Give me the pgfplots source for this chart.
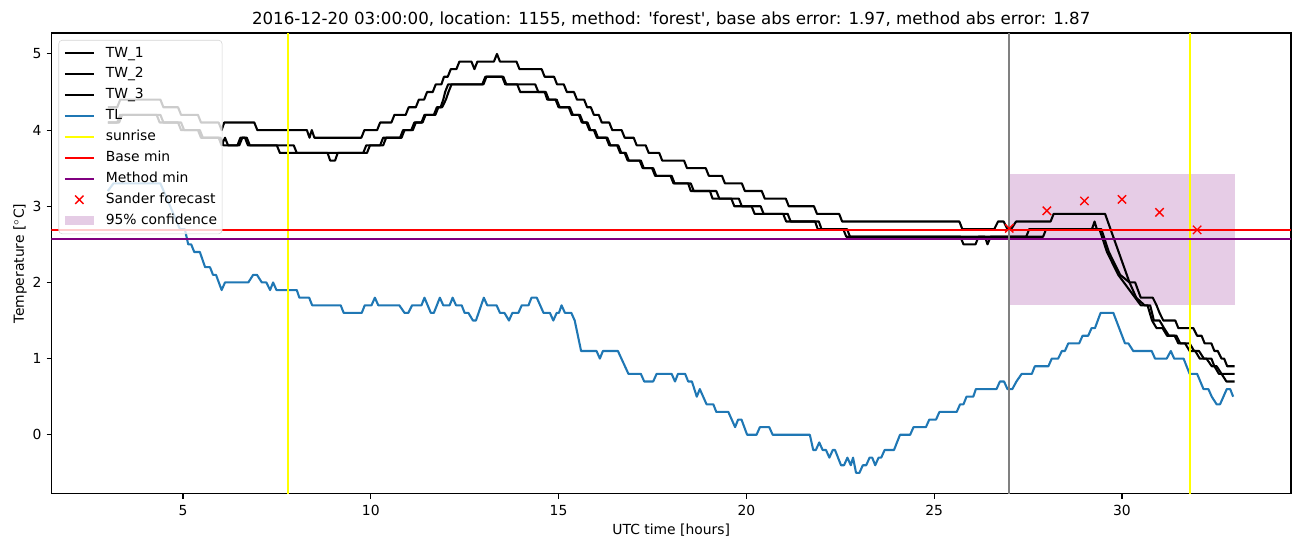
\documentclass[border=0pt]{standalone}
\usepackage{fontspec}
\setmainfont{DejaVu Sans}[Ligatures=TeXOff]
\usepackage{pgfplots}
\pgfplotsset{compat=1.18}
\definecolor{tabblue}{HTML}{1F77B4}
\definecolor{mplpurple}{HTML}{800080}
\definecolor{mplgray}{HTML}{808080}
\definecolor{mplyellow}{HTML}{FFFF00}
\definecolor{mplred}{HTML}{FF0000}
\pgfplotsset{
  lineleg/.style={legend image code/.code={\draw[##1] (0pt,0pt) -- (20.9pt,0pt);}},
  markleg/.style={legend image code/.code={\draw[##1] plot coordinates {(10.45pt,0pt)};}},
}
\begin{document}
\begin{tikzpicture}
\begin{axis}[
  scale only axis, width=892.8pt, height=331.92pt,
  xmin=1.5, xmax=34.5, ymin=-0.775, ymax=5.275,
  xtick={5,10,...,30}, ytick={0,1,...,5},
  xtick pos=left, ytick pos=left, tick align=outside,
  major tick length=3.5pt,
  every tick/.style={black, line width=0.8pt},
  axis line style={line width=0.8pt},
  /pgf/number format/assume math mode=true,
  tick label style={font=\fontsize{10}{12}\selectfont},
  xticklabel style={anchor=north, inner sep=0pt, yshift=-4.5pt},
  yticklabel style={anchor=east, inner sep=0pt, xshift=-3.5pt},
  label style={font=\fontsize{10}{12}\selectfont},
  title style={font=\fontsize{12}{14}\selectfont, at={(axis description cs:0.5,1.0007)}, anchor=base, inner sep=0pt},
  title={2016-12-20 03:00:00, location: 1155, method: 'forest', base abs error: 1.97, method abs error: 1.87},
  xlabel={UTC time [hours]},
  ylabel={Temperature [$^\circ$C]},
  xlabel style={at={(axis description cs:0.5,-0.0642)}, anchor=north, inner sep=0pt},
  ylabel style={at={(axis description cs:-0.0197,0.5)}, anchor=south, inner sep=0pt},
  legend style={at={(axis description cs:0.00565,0.9848)}, anchor=north west,
    font=\fontsize{10}{12}\selectfont, draw=black!17, fill=white, fill opacity=0.8,
    text opacity=1, rounded corners=2.5pt, inner xsep=3.6pt, inner ysep=4.5pt,
    row sep=5.05pt, column sep=7.9pt,
    nodes={inner sep=0pt, text height=7.6pt, text depth=2.4pt}},
  legend cell align=left,
  every axis plot/.append style={line width=1.5pt, line join=round},
]
% 95% confidence band (behind everything)
\addplot[draw=none, fill=mplpurple, fill opacity=0.2, forget plot]
  coordinates {(27,1.70) (33,1.70) (33,3.43) (27,3.43)} -- cycle;

\addplot[black, lineleg, mark=none] coordinates {
(3.0,4.3) (3.25,4.3) (3.33,4.4) (4.4,4.4) (4.48,4.3) (4.87,4.3) (4.95,4.2) (5.4,4.2) (5.48,4.1) (5.95,4.1)
(6.03,4.0) (6.1,4.1) (6.9,4.1) (6.98,4.0) (8.3,4.0) (8.37,3.9) (8.43,4.0) (8.5,3.9) (9.75,3.9) (9.83,4.0)
(10.17,4.0) (10.25,4.1) (10.55,4.1) (10.63,4.2) (10.93,4.2) (11.01,4.3) (11.2,4.3) (11.28,4.4) (11.42,4.4)
(11.5,4.5) (11.65,4.5) (11.73,4.6) (11.88,4.6) (11.95,4.7) (12.05,4.7) (12.13,4.8) (12.28,4.8) (12.36,4.9)
(12.68,4.9) (12.76,4.8) (12.84,4.9) (13.28,4.9) (13.36,5.0) (13.44,4.9) (13.88,4.9) (13.96,4.8) (14.55,4.8)
(14.63,4.7) (14.88,4.7) (14.96,4.6) (15.14,4.6) (15.22,4.5) (15.41,4.5) (15.49,4.4) (15.68,4.4) (15.76,4.3)
(15.86,4.3) (15.94,4.2) (16.07,4.2) (16.15,4.1) (16.35,4.1) (16.43,4.0) (16.68,4.0) (16.76,3.9) (17.0,3.9)
(17.08,3.8) (17.32,3.8) (17.4,3.7) (17.68,3.7) (17.76,3.6) (18.34,3.6) (18.42,3.5) (18.92,3.5) (19.0,3.4)
(19.35,3.4) (19.43,3.3) (19.88,3.3) (19.96,3.2) (20.41,3.2) (20.49,3.1) (21.05,3.1) (21.13,3.0) (21.8,3.0)
(21.88,2.9) (22.47,2.9) (22.55,2.8) (25.67,2.8) (25.75,2.7) (26.6,2.7) (26.7,2.8) (26.85,2.8) (26.95,2.7)
(27.05,2.7) (27.18,2.8) (28.1,2.8) (28.18,2.9) (29.55,2.9) (30.2,2.0) (30.35,2.0) (30.5,1.8) (30.82,1.8)
(30.92,1.7) (31.0,1.6) (31.1,1.5) (31.42,1.5) (31.5,1.4) (31.9,1.4) (32.0,1.3) (32.12,1.3) (32.2,1.2)
(32.38,1.2) (32.46,1.1) (32.55,1.1) (32.65,1.0) (32.72,1.0) (32.8,0.9) (33.0,0.9)};
\addlegendentry{TW\_1}

\addplot[black, lineleg, mark=none] coordinates {
(3.0,4.1) (3.25,4.1) (3.33,4.2) (4.3,4.2) (4.38,4.1) (4.87,4.1) (4.95,4.0) (5.4,4.0) (5.48,3.9) (5.95,3.9)
(6.03,3.8) (6.12,3.9) (6.2,3.8) (6.45,3.8) (6.53,3.9) (6.65,3.9) (6.73,3.8) (7.5,3.8) (7.58,3.7) (8.85,3.7)
(8.92,3.6) (9.05,3.6) (9.12,3.7) (9.8,3.7) (9.88,3.8) (10.25,3.8) (10.33,3.9) (10.78,3.9) (10.86,4.0)
(11.08,4.0) (11.16,4.1) (11.35,4.1) (11.43,4.2) (11.68,4.2) (11.76,4.3) (11.86,4.3) (11.93,4.4) (11.98,4.5)
(12.06,4.6) (12.97,4.6) (13.05,4.7) (13.5,4.7) (13.58,4.6) (13.9,4.6) (13.98,4.5) (14.63,4.5) (14.7,4.4)
(14.92,4.4) (15.0,4.3) (15.27,4.3) (15.35,4.2) (15.54,4.2) (15.62,4.1) (15.74,4.1) (15.82,4.0) (15.94,4.0)
(16.02,3.9) (16.27,3.9) (16.35,3.8) (16.56,3.8) (16.64,3.7) (16.76,3.7) (16.84,3.6) (17.16,3.6) (17.24,3.5)
(17.49,3.5) (17.57,3.4) (17.98,3.4) (18.06,3.3) (18.45,3.3) (18.52,3.2) (19.03,3.2) (19.1,3.1) (19.6,3.1)
(19.68,3.0) (20.14,3.0) (20.22,2.9) (20.98,2.9) (21.06,2.8) (21.83,2.8) (21.9,2.7) (22.58,2.7) (22.66,2.6)
(25.7,2.6) (25.78,2.5) (26.1,2.5) (26.18,2.6) (27.45,2.6) (27.53,2.7) (29.2,2.7) (29.27,2.8) (29.33,2.7)
(29.45,2.7) (29.65,2.4) (29.85,2.2) (29.95,2.1) (30.2,2.0) (30.38,1.8) (30.6,1.7) (30.75,1.7) (30.85,1.5)
(31.0,1.5) (31.12,1.4) (31.25,1.3) (31.45,1.3) (31.55,1.2) (31.8,1.2) (31.92,1.1) (32.05,1.1) (32.18,1.0)
(32.38,1.0) (32.46,0.9) (32.58,0.8) (33.0,0.8)};
\addlegendentry{TW\_2}

\addplot[black, lineleg, mark=none] coordinates {
(3.0,4.1) (3.3,4.1) (3.38,4.2) (4.4,4.2) (4.48,4.1) (4.95,4.1) (5.03,4.0) (5.45,4.0) (5.53,3.9) (6.0,3.9)
(6.08,3.8) (6.5,3.8) (6.58,3.9) (6.7,3.9) (6.78,3.8) (7.95,3.8) (8.03,3.7) (9.9,3.7) (9.98,3.8) (10.33,3.8)
(10.41,3.9) (10.82,3.9) (10.9,4.0) (11.12,4.0) (11.2,4.1) (11.38,4.1) (11.46,4.2) (11.72,4.2) (11.8,4.3)
(11.9,4.3) (12.0,4.4) (12.07,4.5) (12.15,4.6) (13.0,4.6) (13.08,4.7) (13.53,4.7) (13.61,4.6) (14.38,4.6)
(14.46,4.5) (14.66,4.5) (14.74,4.4) (14.95,4.4) (15.03,4.3) (15.3,4.3) (15.38,4.2) (15.57,4.2) (15.65,4.1)
(15.77,4.1) (15.85,4.0) (15.97,4.0) (16.05,3.9) (16.3,3.9) (16.38,3.8) (16.59,3.8) (16.67,3.7) (16.79,3.7)
(16.87,3.6) (17.19,3.6) (17.27,3.5) (17.52,3.5) (17.6,3.4) (18.01,3.4) (18.09,3.3) (18.52,3.3) (18.6,3.2)
(19.2,3.2) (19.28,3.1) (19.8,3.1) (19.88,3.0) (20.38,3.0) (20.46,2.9) (21.1,2.9) (21.18,2.8) (21.93,2.8)
(22.0,2.7) (22.68,2.7) (22.76,2.6) (26.35,2.6) (26.42,2.5) (26.5,2.6) (27.9,2.6) (27.98,2.7) (29.4,2.7)
(29.6,2.4) (29.9,2.1) (30.05,2.0) (30.35,1.8) (30.5,1.7) (30.68,1.7) (30.8,1.5) (30.92,1.4) (31.08,1.4)
(31.2,1.3) (31.4,1.3) (31.5,1.2) (31.68,1.2) (31.8,1.1) (31.95,1.1) (32.07,1.0) (32.25,1.0) (32.39,0.9)
(32.52,0.9) (32.65,0.8) (32.78,0.7) (33.0,0.7)};
\addlegendentry{TW\_3}

\addplot[tabblue, lineleg, mark=none] coordinates {
(3.0,3.2) (3.15,3.3) (4.4,3.3) (4.92,2.7) (5.05,2.7) (5.14,2.5) (5.22,2.5) (5.3,2.4) (5.45,2.4) (5.52,2.3)
(5.59,2.2) (5.72,2.2) (5.8,2.1) (5.88,2.1) (6.03,1.9) (6.12,2.0) (6.74,2.0) (6.87,2.1) (6.97,2.1) (7.1,2.0)
(7.22,2.0) (7.32,1.9) (7.4,2.0) (7.49,1.9) (8.03,1.9) (8.1,1.8) (8.36,1.8) (8.44,1.7) (9.2,1.7) (9.28,1.6)
(9.76,1.6) (9.84,1.7) (10.02,1.7) (10.11,1.8) (10.2,1.7) (10.76,1.7) (10.9,1.6) (11.0,1.6) (11.1,1.7)
(11.35,1.7) (11.43,1.8) (11.6,1.6) (11.68,1.6) (11.84,1.8) (11.93,1.7) (12.1,1.7) (12.18,1.8) (12.27,1.7)
(12.42,1.7) (12.5,1.6) (12.6,1.6) (12.72,1.5) (12.8,1.5) (13.01,1.8) (13.1,1.7) (13.35,1.7) (13.44,1.6)
(13.56,1.6) (13.68,1.5) (13.77,1.6) (13.93,1.6) (14.02,1.7) (14.2,1.7) (14.28,1.8) (14.42,1.8) (14.6,1.6)
(14.77,1.6) (14.86,1.5) (14.95,1.6) (15.01,1.6) (15.08,1.7) (15.17,1.6) (15.34,1.6) (15.43,1.5) (15.6,1.1)
(16.01,1.1) (16.1,1.0) (16.18,1.1) (16.58,1.1) (16.86,0.8) (17.19,0.8) (17.28,0.7) (17.52,0.7) (17.61,0.8)
(18.01,0.8) (18.1,0.7) (18.18,0.8) (18.37,0.8) (18.45,0.7) (18.55,0.7) (18.68,0.5) (18.76,0.6) (18.94,0.4)
(19.12,0.4) (19.2,0.3) (19.52,0.3) (19.7,0.1) (19.78,0.2) (19.87,0.2) (20.02,0.0) (20.27,0.0) (20.36,0.1)
(20.61,0.1) (20.7,0.0) (21.69,0.0) (21.78,-0.2) (21.85,-0.2) (21.94,-0.1) (22.03,-0.2) (22.12,-0.2)
(22.21,-0.3) (22.3,-0.2) (22.36,-0.2) (22.52,-0.4) (22.6,-0.4) (22.69,-0.3) (22.78,-0.4) (22.84,-0.3)
(22.92,-0.5) (23.01,-0.5) (23.1,-0.4) (23.19,-0.4) (23.28,-0.3) (23.35,-0.3) (23.43,-0.4) (23.52,-0.3)
(23.59,-0.3) (23.68,-0.2) (23.93,-0.2) (24.09,0.0) (24.36,0.0) (24.45,0.1) (24.78,0.1) (24.87,0.2)
(25.05,0.2) (25.14,0.3) (25.6,0.3) (25.69,0.4) (25.78,0.4) (25.86,0.5) (26.04,0.5) (26.11,0.6) (26.66,0.6)
(26.75,0.7) (26.86,0.7) (26.95,0.6) (27.08,0.6) (27.19,0.7) (27.33,0.8) (27.6,0.8) (27.68,0.9) (28.04,0.9)
(28.13,1.0) (28.3,1.0) (28.4,1.1) (28.48,1.1) (28.57,1.2) (28.86,1.2) (28.95,1.3) (29.1,1.3) (29.19,1.4)
(29.28,1.4) (29.43,1.6) (29.77,1.6) (30.08,1.2) (30.17,1.2) (30.3,1.1) (30.79,1.1) (30.88,1.0) (31.19,1.0)
(31.3,1.1) (31.39,1.0) (31.64,1.0) (31.8,0.8) (32.0,0.8) (32.17,0.6) (32.3,0.6) (32.39,0.5) (32.52,0.4)
(32.61,0.4) (32.79,0.6) (32.88,0.6) (32.96,0.5)};
\addlegendentry{TL}

\addplot[mplyellow, lineleg, mark=none] coordinates {(7.8,-0.775) (7.8,5.275)};
\addlegendentry{sunrise}
\addplot[mplyellow, mark=none, forget plot] coordinates {(31.8,-0.775) (31.8,5.275)};

\addplot[mplred, lineleg, mark=none] coordinates {(1.5,2.69) (34.5,2.69)};
\addlegendentry{Base min}
\addplot[mplpurple, lineleg, mark=none] coordinates {(1.5,2.57) (34.5,2.57)};
\addlegendentry{Method min}

\addplot[mplgray, mark=none, forget plot] coordinates {(27,-0.775) (27,5.275)};

\addplot[mplred, only marks, mark=x, mark size=4.24pt, mark options={line width=1pt}, markleg]
  coordinates {(27,2.71) (28,2.94) (29,3.07) (30,3.09) (31,2.92) (32,2.69)};
\addlegendentry{Sander forecast}

\addlegendimage{legend image code/.code={\path[draw=none, fill=mplpurple, fill opacity=0.2, sharp corners] (0pt,-3.5pt) rectangle (20.9pt,3.5pt);}}
\addlegendentry{95\% confidence}
\end{axis}
\pgfresetboundingbox
\path[use as bounding box] ([xshift=-37.08pt,yshift=-38.16pt]current axis.south west)
  rectangle ([xshift=7.92pt,yshift=23.76pt]current axis.north east);
\end{tikzpicture}
\end{document}
